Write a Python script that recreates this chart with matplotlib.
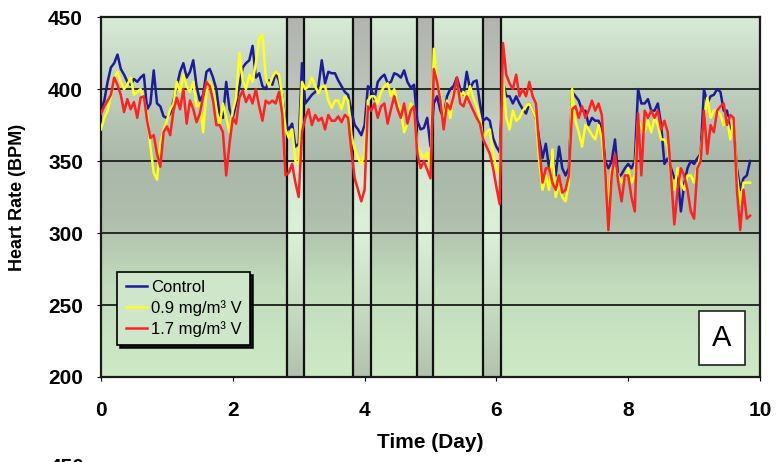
import numpy as np
import matplotlib
matplotlib.use("Agg")
import matplotlib.pyplot as plt
from matplotlib.colors import LinearSegmentedColormap

# heart rate (BPM), sampled every 0.05 day
control = [385, 392, 405, 415, 418, 424, 414, 410, 405, 403,
           407, 405, 408, 410, 386, 390, 413, 390, 388, 381,
           380, 383, 392, 402, 412, 418, 408, 412, 420, 402,
           392, 396, 412, 414, 408, 400, 382, 380, 405, 386,
           380, 390, 402, 415, 418, 420, 430, 408, 411, 402,
           400, 406, 403, 411, 406, 396, 376, 372, 376, 360,
           362, 418, 390, 393, 396, 398, 402, 420, 404, 412,
           411, 411, 406, 402, 398, 396, 385, 375, 372, 368,
           375, 402, 400, 393, 405, 408, 410, 404, 405, 411,
           410, 408, 413, 405, 401, 403, 378, 372, 373, 380,
           360, 390, 395, 385, 380, 395, 400, 402, 408, 400,
           396, 412, 400, 405, 406, 390, 378, 380, 378, 366,
           360, 356, 405, 395, 395, 390, 395, 390, 386, 383,
           390, 385, 380, 365, 352, 362, 345, 355, 340, 360,
           345, 340, 345, 398, 395, 392, 385, 385, 375, 380,
           378, 378, 373, 350, 345, 350, 365, 338, 341, 345,
           348, 345, 350, 400, 390, 390, 393, 385, 385, 390,
           375, 348, 352, 345, 338, 340, 315, 334, 345, 350,
           348, 352, 355, 400, 390, 395, 396, 400, 398, 385,
           385, 370, 375, 345, 330, 338, 340, 350]

low_dose = [372, 380, 385, 395, 408, 412, 405, 400, 403, 408,
            396, 398, 400, 393, 382, 360, 342, 337, 362, 372,
            378, 386, 390, 405, 398, 410, 402, 398, 405, 388,
            390, 370, 398, 405, 400, 386, 375, 390, 380, 370,
            385, 394, 425, 406, 400, 410, 405, 418, 435, 438,
            408, 402, 408, 412, 410, 396, 372, 366, 372, 350,
            348, 405, 400, 402, 408, 402, 397, 402, 402, 392,
            387, 392, 392, 386, 395, 392, 368, 358, 352, 348,
            355, 392, 395, 395, 390, 398, 402, 404, 395, 400,
            390, 385, 370, 376, 390, 385, 360, 355, 352, 356,
            345, 428, 405, 395, 378, 392, 380, 398, 404, 395,
            398, 392, 402, 394, 388, 380, 365, 370, 372, 355,
            345, 340, 408, 380, 372, 385, 378, 380, 385, 388,
            390, 385, 380, 350, 330, 340, 330, 358, 325, 335,
            325, 322, 335, 400, 378, 370, 360, 375, 372, 368,
            365, 375, 366, 345, 318, 345, 345, 340, 335, 338,
            345, 335, 340, 378, 373, 370, 378, 370, 380, 375,
            365, 365, 360, 340, 330, 345, 335, 330, 340, 340,
            335, 345, 355, 378, 394, 380, 385, 385, 382, 375,
            380, 365, 380, 340, 320, 335, 335, 335]

high_dose = [383, 388, 392, 396, 408, 403, 396, 384, 393, 386,
             391, 380, 394, 395, 378, 366, 368, 355, 346, 370,
             374, 368, 385, 394, 386, 400, 376, 392, 386, 377,
             383, 395, 405, 402, 392, 375, 375, 370, 340, 362,
             380, 376, 394, 399, 391, 396, 390, 400, 388, 378,
             392, 390, 392, 390, 398, 383, 340, 342, 348, 335,
             325, 370, 380, 386, 375, 382, 378, 380, 372, 382,
             378, 378, 381, 377, 382, 380, 357, 338, 330, 322,
             330, 388, 385, 390, 380, 388, 390, 376, 386, 395,
             386, 380, 390, 376, 385, 388, 355, 345, 350, 344,
             338, 414, 405, 392, 372, 390, 386, 395, 408, 390,
             388, 395, 390, 385, 380, 376, 365, 360, 355, 345,
             332, 320, 432, 410, 404, 400, 410, 395, 400, 395,
             405, 395, 390, 360, 335, 345, 345, 335, 330, 340,
             328, 330, 340, 386, 388, 380, 388, 380, 385, 392,
             385, 390, 382, 345, 302, 340, 355, 335, 322, 340,
             340, 325, 315, 383, 340, 385, 380, 385, 380, 385,
             372, 378, 370, 340, 306, 330, 345, 340, 330, 315,
             310, 345, 350, 385, 355, 375, 370, 385, 388, 390,
             375, 382, 380, 330, 302, 330, 310, 312]

day = np.arange(len(control)) * 0.05

# exposure periods (start, end) in days
exposures = [(2.83, 3.08), (3.83, 4.10), (4.79, 5.04), (5.80, 6.07)]

series_labels = ["Control", "0.9 mg/m³ V", "1.7 mg/m³ V"]
series_colors = ["#1c1c9a", "#ffff1a", "#ff2222"]

plt.rcParams["font.family"] = ["Liberation Sans", "DejaVu Sans"]

fig = plt.figure(figsize=(7.83, 4.62), dpi=100)
ax = fig.add_axes([0.129, 0.184, 0.8416, 0.779])

bg_cmap = LinearSegmentedColormap.from_list("bg", [
    (0.0, "#cdeac5"), (0.25, "#c2dcbc"), (0.45, "#aebdac"),
    (0.6, "#aab8a9"), (0.8, "#bfcfbd"), (1.0, "#d7ebd5")])
band_cmap = LinearSegmentedColormap.from_list("band", [
    (0.0, "#b3c2ae"), (0.2, "#c8dcc4"), (0.4, "#dcefd8"),
    (0.55, "#d8ead4"), (0.75, "#bfc6bd"), (1.0, "#b1b4af")])
grad = np.linspace(0, 1, 256).reshape(-1, 1)

ax.imshow(grad, extent=[0, 10, 200, 450], origin="lower", aspect="auto",
          cmap=bg_cmap, interpolation="bilinear", zorder=0)
for x0, x1 in exposures:
    ax.imshow(grad, extent=[x0, x1, 200, 450], origin="lower", aspect="auto",
              cmap=band_cmap, interpolation="bilinear", zorder=0.5)
    ax.axvline(x0, color="#111111", lw=1.6, zorder=1.6)
    ax.axvline(x1, color="#111111", lw=1.6, zorder=1.6)

for i, ys in enumerate([control, low_dose, high_dose]):
    ax.plot(day, ys, color=series_colors[i], lw=1.8, label=series_labels[i], zorder=2 + i)

ax.set_xlim(0, 10)
ax.set_ylim(200, 450)
ax.set_xticks([0, 2, 4, 6, 8, 10])
ax.set_yticks([200, 250, 300, 350, 400, 450])
ax.grid(axis="y", color="#1e1e1e", lw=1.3)
ax.tick_params(axis="x", length=3, pad=14, labelsize=15)
ax.tick_params(axis="y", length=3, pad=10, labelsize=15)
for lab in ax.get_xticklabels() + ax.get_yticklabels():
    lab.set_fontweight("bold")
for s in ax.spines.values():
    s.set_color("#1a1a1a")
    s.set_linewidth(1.6)

ax.set_xlabel("Time (Day)", fontsize=15, fontweight="bold", labelpad=10)
ax.set_ylabel("Heart Rate (BPM)", fontsize=13, fontweight="bold", labelpad=16)

leg = ax.legend(loc="lower left", bbox_to_anchor=(0.012, 0.065), fontsize=12,
                handlelength=1.3, handletextpad=0.25, labelspacing=0.3,
                borderpad=0.5, fancybox=False, framealpha=1,
                facecolor="#cfe6cb", edgecolor="black",
                shadow={"color": "black", "alpha": 0.9})
leg.get_frame().set_linewidth(1.2)
leg.set_zorder(10)

ax.text(9.42, 227, "A", fontsize=21, ha="center", va="center", zorder=10,
        bbox=dict(boxstyle="square,pad=0.45", facecolor="white",
                  edgecolor="#222222", lw=1.2))

# top of the next panel's axis label, cut by the image edge
fig.text(85 / 783, 4 / 462, "450", ha="right", va="top", fontsize=15, fontweight="bold")

fig.savefig("out.png", dpi=100)
